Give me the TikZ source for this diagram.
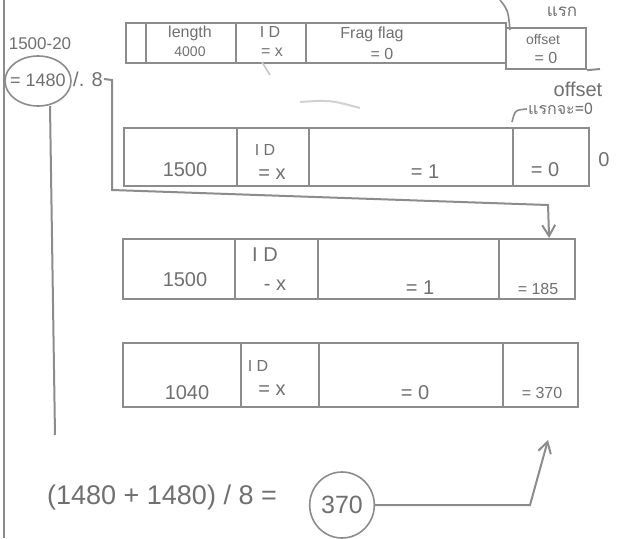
\documentclass[tikz,border=0pt]{standalone}
\usepackage{fontspec}
\setmainfont{Liberation Sans}
\newfontfamily\thaifont[Script=Thai]{Loma}
\usetikzlibrary{arrows.meta,calc,shapes.geometric}
\definecolor{pen}{HTML}{8C8C8C}
\definecolor{ink}{HTML}{707070}
\tikzset{
  cell/.style={draw=pen, line width=2.2pt, rectangle, inner sep=0pt, anchor=north west},
  lbl/.style={text=ink, font=\fontsize{20}{22}\selectfont, inner sep=1pt},
  small/.style={text=ink, font=\fontsize{16}{18}\selectfont, inner sep=1pt},
  tiny/.style={text=ink, font=\fontsize{14}{15}\selectfont, inner sep=0pt},
  conn/.style={draw=pen, line width=2pt},
  tip/.style={-{Straight Barb[length=11pt,width=13pt]}},
}
\begin{document}
\begin{tikzpicture}[x=1pt,y=-1pt]
\useasboundingbox (0,0) rectangle (623,538);
\fill[white] (0,0) rectangle (623,538);
% left border
\draw[pen, line width=2pt] (4,0) -- (4,538);

% ---- row 1 ----
\node[cell, minimum width=20pt, minimum height=40pt] (r1a) at (125,22) {};
\node[cell, minimum width=90pt, minimum height=40pt] (r1b) at (145,22) {};
\node[cell, minimum width=70pt, minimum height=40pt] (r1c) at (235,22) {};
\node[cell, minimum width=200pt, minimum height=40pt] (r1d) at (305,22) {};
\node[cell, minimum width=80pt, minimum height=41pt] (r1e) at (505,27) {};
\node[small] (t1b1) at (190,33) {length};
\node[tiny] (t1b2) at (190,52) {4000};
\node[small] (t1c1) at (270,32) {I D};
\node[small] (t1c2) at (272,52) {= x};
\node[small] (t1d1) at (372,34) {Frag flag};
\node[small] (t1d2) at (382,54) {= 0};
\node[tiny] (t1e1) at (543,40) {offset};
\node[small] (t1e2) at (546,58) {= 0};
\draw[pen, line width=2pt] (r1e.south east) -- (600,69);

% top-right notes
\draw[pen, line width=1.6pt] (500,0) .. controls (508,10) .. (510,30);
\node[small, font=\thaifont\fontsize{17}{18}\selectfont] (topnote) at (562,12) {แรก};
\node[lbl] (offnote) at (578,89) {offset};
\node[small, font=\thaifont\fontsize{16}{18}\selectfont, anchor=west] (offnote2) at (527,109) {แรกจะ=0};
\draw[pen, line width=1.6pt] (offnote2.west) .. controls (515,110) .. (512,122);

% faint marks
\draw[pen!50, line width=1.6pt] (262,62) -- (270,75);
\draw[pen!40, line width=2pt] (300,102) .. controls (330,100) .. (360,108);

% ---- calculation at left ----
\node[small, font=\fontsize{17}{18}\selectfont] (sub) at (40,44) {1500-20};
\node[small, font=\fontsize{18}{20}\selectfont] (res1480) at (38,80) {= 1480};
\draw[pen, line width=1.6pt] (38,81) ellipse (33pt and 25pt);
\node[lbl, anchor=west] (pct8) at (72,79) {/. 8};
\coordinate (vtop) at (50,106);
\coordinate (vbot) at (55,435);
\draw[conn] (vtop) -- (vbot);

% ---- row 2 ----
\node[cell, minimum width=113pt, minimum height=58pt] (r2a) at (123,127) {};
\node[cell, minimum width=72pt, minimum height=58pt] (r2b) at (236,127) {};
\node[cell, minimum width=204pt, minimum height=58pt] (r2c) at (308,127) {};
\node[cell, minimum width=76pt, minimum height=58pt] (r2d) at (512,127) {};
\node[lbl] (t2a) at (185,170) {1500};
\node[small] (t2b1) at (265,150) {I D};
\node[lbl] (t2b2) at (272,174) {= x};
\node[lbl] (t2c) at (425,172) {= 1};
\node[lbl] (t2d) at (545,170) {= 0};
\node[lbl] (t2out) at (604,160) {0};

% ---- row 3 ----
\node[cell, minimum width=112pt, minimum height=60pt] (r3a) at (122,238) {};
\node[cell, minimum width=83pt, minimum height=60pt] (r3b) at (234,238) {};
\node[cell, minimum width=181pt, minimum height=60pt] (r3c) at (317,238) {};
\node[cell, minimum width=76pt, minimum height=60pt] (r3d) at (498,238) {};
\node[lbl] (t3a) at (185,280) {1500};
\node[lbl] (t3b1) at (265,255) {I D};
\node[lbl] (t3b2) at (275,285) {- x};
\node[lbl] (t3c) at (420,288) {= 1};
\node[small] (t3d) at (538,289) {= 185};

% ---- row 4 ----
\node[cell, minimum width=118pt, minimum height=64pt] (r4a) at (122,342) {};
\node[cell, minimum width=78pt, minimum height=64pt] (r4b) at (240,342) {};
\node[cell, minimum width=184pt, minimum height=64pt] (r4c) at (318,342) {};
\node[cell, minimum width=75pt, minimum height=64pt] (r4d) at (502,342) {};
\node[lbl] (t4a) at (187,393) {1040};
\node[small] (t4b1) at (258,366) {I D};
\node[lbl] (t4b2) at (272,390) {= x};
\node[lbl] (t4c) at (415,393) {= 0};
\node[small] (t4d) at (542,393) {= 370};

% ---- connector from /.8 to row 3 offset ----
\coordinate (a1) at (112,80);
\coordinate (a2) at (112,190);
\coordinate (a3) at (548,205);
\draw[conn, tip] (pct8.east) -- (a1) -- (a2) -- (a3) -- ($(r3d.north)+(12,0)$);

% ---- bottom formula ----
\node[lbl, font=\fontsize{27}{29}\selectfont] (formula) at (162,498) {(1480 + 1480) / 8 =};
\node[lbl, font=\fontsize{25}{27}\selectfont, draw=pen, line width=1.6pt, ellipse, inner sep=2pt, minimum width=62pt, minimum height=66pt] (c370) at (342,505) {370};
\coordinate (b1) at (530,505);
\coordinate (b2) at (548,440);
\draw[conn, tip] (c370.east) -- (b1) -- (b2);
\end{tikzpicture}
\end{document}
